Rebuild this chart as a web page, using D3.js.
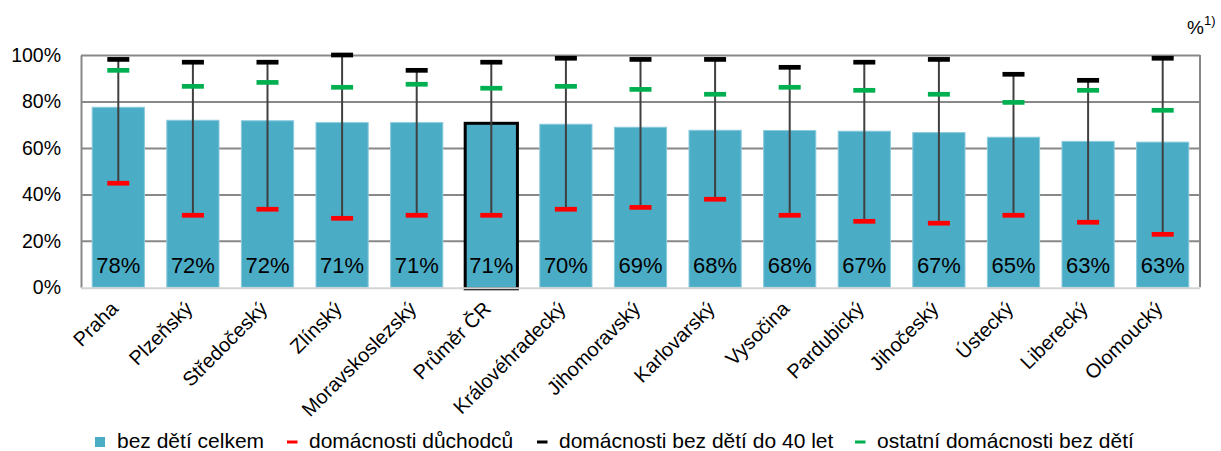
<!DOCTYPE html>
<html>
<head>
<meta charset="utf-8">
<script src="https://cdn.jsdelivr.net/npm/d3@7"></script>
<style>
  html, body { margin: 0; padding: 0; background: #fff; }
  svg { display: block; font-family: "Liberation Sans", Arial, sans-serif; }
</style>
</head>
<body>
<svg id="chart" width="1221" height="451"></svg>
<script>
const categories = ["Praha","Plzeňský","Středočeský","Zlínský","Moravskoslezský","Průměr ČR","Královéhradecký","Jihomoravský","Karlovarský","Vysočina","Pardubický","Jihočeský","Ústecký","Liberecký","Olomoucký"];
const highlighted = "Průměr ČR";
// bez dětí celkem
const totalNoChildren = [77.5, 71.9, 71.7, 70.9, 70.9, 70.6, 70.2, 68.9, 67.6, 67.5, 67.2, 66.6, 64.6, 62.8, 62.5];
// domácnosti důchodců
const pensioners = [44.8, 31.0, 33.6, 29.7, 31.0, 31.0, 33.6, 34.4, 37.9, 31.0, 28.4, 27.6, 31.0, 28.0, 22.8];
// domácnosti bez dětí do 40 let
const youngNoChildren = [98.1, 96.9, 96.9, 100.0, 93.4, 96.9, 98.6, 98.1, 98.1, 94.7, 96.9, 98.1, 91.7, 89.1, 98.6];
// ostatní domácnosti bez dětí
const otherNoChildren = [93.4, 86.5, 88.2, 86.1, 87.4, 85.7, 86.5, 85.2, 83.1, 86.1, 84.8, 83.1, 79.6, 84.8, 76.2];
const yTicks = [0, 20, 40, 60, 80, 100];
const legendLabels = ["bez dětí celkem", "domácnosti důchodců", "domácnosti bez dětí do 40 let", "ostatní domácnosti bez dětí"];

(function () {
const BLUE = "#4bacc6", RED = "#ff0000", BLACK = "#000000", GREEN = "#00b050";

const svg = d3.select("#chart");
const pLeft = 81, pRight = 1200, pTop = 55, pBottom = 287.3;

const x = d3.scaleBand().domain(categories).range([pLeft, pRight]).paddingInner(0.3).paddingOuter(0.15);
const y = d3.scaleLinear().domain([0, 100]).range([pBottom, pTop]);

// gridlines
const grid = svg.append("g").attr("transform", `translate(${pLeft},0)`)
  .call(d3.axisLeft(y).tickValues(yTicks.slice(1)).tickSize(-(pRight - pLeft)).tickFormat(""));
grid.select(".domain").remove();
grid.selectAll("line").attr("stroke", "#888").attr("stroke-width", 2);

// right border
svg.append("line").attr("x1", pRight).attr("x2", pRight).attr("y1", y(100)).attr("y2", pBottom)
  .attr("stroke", "#888").attr("stroke-width", 2);

// y axis
const yAxis = svg.append("g").attr("transform", `translate(${pLeft},0)`)
  .call(d3.axisLeft(y).tickValues(yTicks).tickFormat(d => d + "%").tickSize(0).tickPadding(20));
yAxis.select(".domain").attr("stroke", "#888").attr("stroke-width", 2);
yAxis.selectAll("text").attr("font-size", "19.5px").attr("fill", "#000")
  .attr("font-family", "'Liberation Sans', Arial, sans-serif");

const rows = categories.map((c, i) => ({
  c, total: totalNoChildren[i], pens: pensioners[i], young: youngNoChildren[i], other: otherNoChildren[i]
}));

// bars
svg.append("g").selectAll("rect").data(rows).join("rect")
  .attr("x", d => x(d.c))
  .attr("y", d => y(d.total))
  .attr("width", x.bandwidth())
  .attr("height", d => y(0) - y(d.total) + (d.c === highlighted ? 1.5 : 0))
  .attr("fill", BLUE)
  .attr("stroke", d => d.c === highlighted ? BLACK : "#8ccbdd")
  .attr("stroke-width", d => d.c === highlighted ? 3 : 1);

// x axis baseline
svg.append("line").attr("x1", pLeft).attr("x2", pRight).attr("y1", pBottom + 1).attr("y2", pBottom + 1)
  .attr("stroke", "#d4d4d4").attr("stroke-width", 2);

// value labels
const cx = d => x(d.c) + x.bandwidth() / 2;
svg.append("g").selectAll("text").data(rows).join("text")
  .attr("x", cx)
  .attr("y", 272.5)
  .attr("text-anchor", "middle")
  .attr("font-size", "22px")
  .attr("fill", "#000")
  .text(d => Math.round(d.total) + "%");

// whiskers
svg.append("g").selectAll("line").data(rows).join("line")
  .attr("x1", cx).attr("x2", cx)
  .attr("y1", d => y(d.pens)).attr("y2", d => y(Math.max(d.young, d.other)))
  .attr("stroke", "#404040").attr("stroke-width", 2);

const capW = 22, capH = 4.7;
function caps(key, color) {
  svg.append("g").selectAll("rect").data(rows).join("rect")
    .attr("x", d => cx(d) - capW / 2)
    .attr("y", d => y(d[key]) - capH / 2)
    .attr("width", capW).attr("height", capH)
    .attr("fill", color);
}
caps("pens", RED);
caps("other", GREEN);
caps("young", BLACK);

// x labels
svg.append("g").selectAll("text").data(rows).join("text")
  .attr("transform", d => `translate(${cx(d) + 1},310) rotate(-45)`)
  .attr("text-anchor", "end")
  .attr("font-size", "20px")
  .attr("fill", "#000")
  .text(d => d.c);

// unit
const unit = svg.append("text").attr("x", 1187).attr("y", 34).attr("font-size", "19px").attr("fill", "#000");
unit.append("tspan").text("%");
unit.append("tspan").attr("dy", -9).attr("font-size", "13px").text("1)");

// legend
const legendX = [95, 287, 537, 855];
const legendColors = [BLUE, RED, BLACK, GREEN];
const lg = svg.append("g");
legendLabels.forEach((t, i) => {
  if (i === 0) {
    lg.append("rect").attr("x", legendX[i]).attr("y", 437).attr("width", 10).attr("height", 10).attr("fill", legendColors[i]);
  } else {
    lg.append("rect").attr("x", legendX[i]).attr("y", 440.5).attr("width", 10.5).attr("height", 3).attr("fill", legendColors[i]);
  }
  lg.append("text").attr("x", legendX[i] + 22).attr("y", 448.3).attr("font-size", "21px").attr("fill", "#000").text(t);
});
})();
</script>
</body>
</html>
